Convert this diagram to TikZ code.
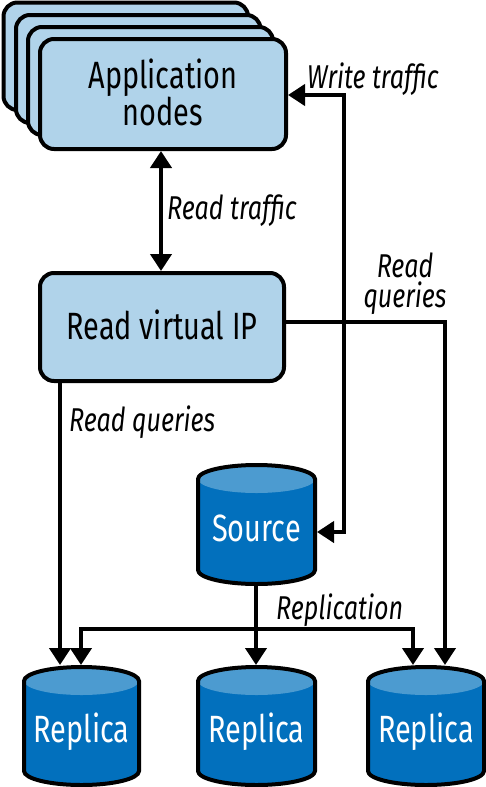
\documentclass[tikz,border=0pt]{standalone}
\usepackage{fontspec}
\setmainfont[FakeStretch=0.76]{Fira Sans}
\usetikzlibrary{arrows.meta,calc}
\definecolor{boxfill}{HTML}{B0D3EA}
\definecolor{cyldark}{HTML}{0270BD}
\definecolor{cyllight}{HTML}{4C9BD0}
\tikzset{
  x=1pt,y=-1pt,
  boxst/.style={draw=black,line width=4pt,fill=boxfill,rounded corners=14pt,minimum width=246pt,inner sep=0pt},
  boxback/.style={draw=black,line width=4pt,fill=boxfill,rounded corners=14pt},
  boxtext/.style={inner sep=0pt,align=center,font=\fontsize{38}{37}\selectfont},
  conn/.style={draw=black,line width=4pt},
  tipend/.style={-{Triangle[length=17pt,width=21pt,inset=0pt]}},
  tipboth/.style={{Triangle[length=17pt,width=21pt,inset=0pt]}-{Triangle[length=17pt,width=21pt,inset=0pt]}},
  lab/.style={font=\itshape\fontsize{33}{30}\selectfont,inner sep=0pt,align=center,text=black},
  cyltext/.style={font=\fontsize{38}{36}\selectfont,text=white,inner sep=0pt},
}
% #1 name, #2 left, #3 right, #4 top, #5 bottom, #6 text
\newcommand{\cylnode}[6]{%
  \pgfmathsetmacro{\cxm}{(#2+#3)/2}\pgfmathsetmacro{\crx}{(#3-#2)/2}%
  \fill[cyldark] (#2,#4+14) -- (#2,#5-14) arc[start angle=180,end angle=360,x radius=\crx pt,y radius=14pt] -- (#3,#4+14) arc[start angle=0,end angle=180,x radius=\crx pt,y radius=14pt] -- cycle;
  \fill[cyllight] (\cxm,#4+14) ellipse[x radius=\crx pt,y radius=14pt];
  \draw[line width=4pt] (#2,#4+14) -- (#2,#5-14) arc[start angle=180,end angle=360,x radius=\crx pt,y radius=14pt] -- (#3,#4+14) arc[start angle=0,end angle=180,x radius=\crx pt,y radius=14pt] -- cycle;
  \node[cyltext,minimum width=#3-#2,minimum height=#5-#4] (#1) at (\cxm,{(#4+#5)/2}) {};
  \node[cyltext,anchor=base] (#1t) at (\cxm,{#5-42.5}) {#6};
}
\begin{document}
\begin{tikzpicture}
\useasboundingbox (0,0) rectangle (486,787);
\path[boxback] (3.5,2.5) rectangle (248,110);
\path[boxback] (16,15) rectangle (260.5,123);
\path[boxback] (28,27) rectangle (273,135);
\node[boxst,minimum height=110pt] (app) at (163,94) {};
\node[boxtext] (appt) at (163,92) {Application\\nodes};
\node[boxst,minimum width=244pt,minimum height=108pt] (vip) at (162,327) {};
\node[boxtext] (vipt2) at (162,325) {Read virtual IP};
\cylnode{source}{198}{315}{465}{584}{Source}
\cylnode{repa}{24}{139}{667}{785}{Replica}
\cylnode{repb}{198}{315}{667}{785}{Replica}
\cylnode{repc}{368}{484}{667}{785}{Replica}

\coordinate (appb) at (161,151);
\coordinate (vipt) at (161,271);
\draw[conn,tipboth] (appb) -- (vipt);
\coordinate (srcr) at (317,532);
\coordinate (appr) at (288,95);
\draw[conn,tipend] (344,532) -- (344,95) -- (appr);
\draw[conn,tipend] (344,95) -- (344,532) -- (srcr);
\coordinate (vipr) at (284,322);
\coordinate (repct) at (445,665);
\draw[conn,tipend] (vipr) -- (445,322) -- (repct);
\coordinate (vipb) at (60,381);
\coordinate (repat) at (60,665);
\draw[conn,tipend] (vipb) -- (repat);
\coordinate (srcb) at (256,584);
\coordinate (repbt) at (256,665);
\draw[conn,tipend] (srcb) -- (repbt);
\draw[conn,tipend] (256,629) -- (81,629) -- (81,665);
\draw[conn,tipend] (256,629) -- (413,629) -- (413,665);

\node[lab,anchor=west] (lw) at (307,79) {Write traffic};
\node[lab,anchor=west] (lr) at (167,211) {Read traffic};
\node[lab] (lq) at (405,284) {Read\\queries};
\node[lab,anchor=west] (lq2) at (69,422) {Read queries};
\node[lab,anchor=west] (lrep) at (276,610) {Replication};
\end{tikzpicture}
\end{document}
